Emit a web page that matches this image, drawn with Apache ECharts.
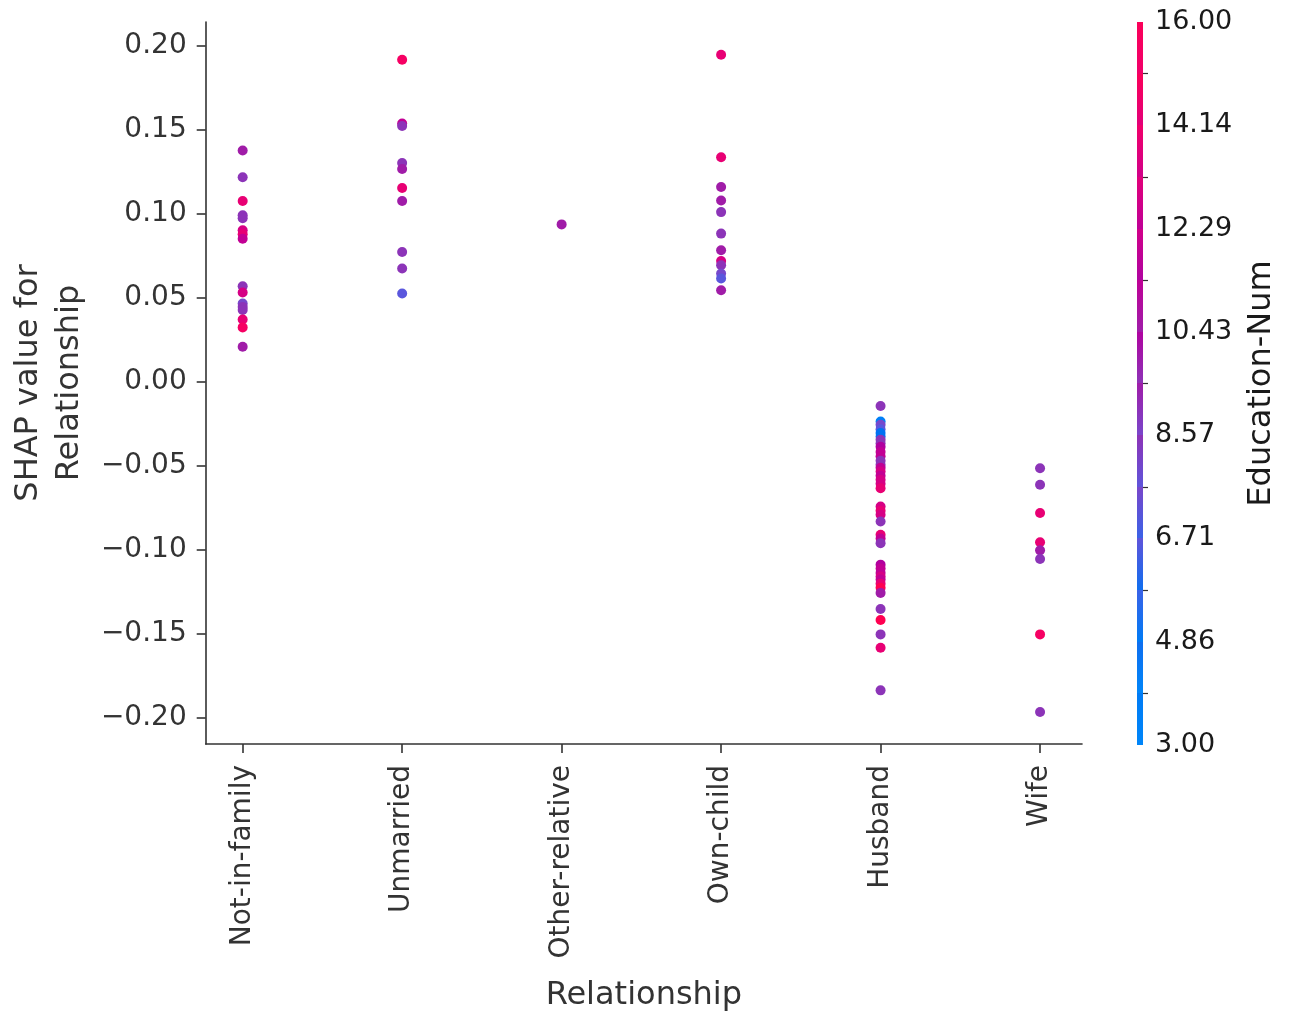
<!DOCTYPE html>
<html>
<head>
<meta charset="utf-8">
<style>
  html, body { margin: 0; padding: 0; background: #ffffff; }
  #chart { width: 1298px; height: 1017px; }
</style>
<script src="https://cdn.jsdelivr.net/npm/echarts@6/dist/echarts.min.js"></script>
</head>
<body>
<div id="chart"></div>
<script>
// ---------------- data ----------------
const categories = ['Not-in-family', 'Unmarried', 'Other-relative', 'Own-child', 'Husband', 'Wife'];

const notInFamilyShap = [0.1378, 0.1219, 0.1077, 0.0992, 0.0974, 0.0903, 0.0879, 0.0853, 0.0570, 0.0533, 0.0467, 0.0447, 0.0428, 0.0372, 0.0325, 0.0210];
const notInFamilyEdu  = [10, 9, 14, 9, 9, 13, 14, 12, 9, 13, 8, 9, 9, 14, 15, 10];

const unmarriedShap = [0.1918, 0.1538, 0.1523, 0.1303, 0.1268, 0.1154, 0.1077, 0.0774, 0.0675, 0.0527];
const unmarriedEdu  = [15, 12, 9, 9, 10, 14, 10, 9, 9, 7];

const otherRelativeShap = [0.0938];
const otherRelativeEdu  = [10];

const ownChildShap = [0.1948, 0.1338, 0.1160, 0.1080, 0.1011, 0.0883, 0.0784, 0.0720, 0.0695, 0.0645, 0.0616, 0.0546];
const ownChildEdu  = [14, 14, 10, 10, 9, 9, 10, 13, 9, 8, 7, 10];

const husbandShap = [-0.0143, -0.0235, -0.0255, -0.0281, -0.0303, -0.0325, -0.0344, -0.0364, -0.0386, -0.0416,
                     -0.0442, -0.0469, -0.0493, -0.0511, -0.0533, -0.0558, -0.0582, -0.0606, -0.0632, -0.0741,
                     -0.0766, -0.0790, -0.0830, -0.0909, -0.0932, -0.0959, -0.1087, -0.1110, -0.1136, -0.1158,
                     -0.1176, -0.1200, -0.1225, -0.1255, -0.1351, -0.1416, -0.1502, -0.1581, -0.1835];
const husbandEdu  = [9, 4, 8, 7, 5, 5, 9, 9, 11, 12,
                     12, 9, 9, 12, 13, 12, 13, 13, 14, 13,
                     14, 13, 9, 14, 12, 9, 11, 12, 12, 13,
                     12, 14, 16, 10, 9, 16, 9, 14, 9];

const wifeShap = [-0.0513, -0.0612, -0.0780, -0.0954, -0.1002, -0.1053, -0.1502, -0.1964];
const wifeEdu  = [9, 9, 14, 14, 10, 9, 15, 9];

const yTickValues = [-0.20, -0.15, -0.10, -0.05, 0.00, 0.05, 0.10, 0.15, 0.20];
const colorbarLabels = ['3.00', '4.86', '6.71', '8.57', '10.43', '12.29', '14.14', '16.00'];
const eduMin = 3, eduMax = 16;

// ---------------- build ----------------
const groups = [
  [notInFamilyShap, notInFamilyEdu],
  [unmarriedShap, unmarriedEdu],
  [otherRelativeShap, otherRelativeEdu],
  [ownChildShap, ownChildEdu],
  [husbandShap, husbandEdu],
  [wifeShap, wifeEdu]
];
const points = [];
groups.forEach(function (g, ci) {
  g[0].forEach(function (v, k) { points.push([ci, v, g[1][k]]); });
});

// SHAP-like red_blue palette (bottom = blue, top = red)
const palette = ['#008bfb', '#0080f7', '#0072f2', '#2f66ea', '#5a57dd', '#7748cc', '#8c34b8',
                 '#a01ca8', '#b1009f', '#c20094', '#d60085', '#e80074', '#f60063', '#ff0051'];

function hexToRgb(h) { return [parseInt(h.substr(1,2),16), parseInt(h.substr(3,2),16), parseInt(h.substr(5,2),16)]; }
function sampleColor(t) {
  const n = palette.length - 1;
  const p = Math.max(0, Math.min(1, t)) * n;
  const i = Math.min(n - 1, Math.floor(p));
  const f = p - i;
  const a = hexToRgb(palette[i]), b = hexToRgb(palette[i + 1]);
  const c = a.map(function (x, k) { return Math.round(x + (b[k] - x) * f); });
  return 'rgb(' + c.join(',') + ')';
}
// stepped gradient for the colorbar (bottom to top)
const nSteps = 14;
const barStops = [];
for (let s = 0; s < nSteps; s++) {
  const col = sampleColor((s + 0.5) / nSteps);
  barStops.push({ offset: 1 - s / nSteps, color: col });
  barStops.push({ offset: 1 - (s + 1) / nSteps, color: col });
}
barStops.sort(function (a, b) { return a.offset - b.offset; });

const axisColor = '#333333';
const FONT = 'DejaVu Sans';
const fmtMinus = function (v) { return (v < -1e-9 ? '\u2212' : '') + Math.abs(v).toFixed(2); };

const chart = echarts.init(document.getElementById('chart'), null, { renderer: 'canvas' });
const option = {
  backgroundColor: '#ffffff',
  animation: false,
  textStyle: { fontFamily: FONT },
  grid: [
    { left: 205, top: 22, width: 877, height: 724, containLabel: false },
    { left: 1137, top: 22, width: 6, height: 723, containLabel: false }
  ],
  xAxis: [
    {
      type: 'value', gridIndex: 0,
      min: -0.2318, max: 5.263,
      name: 'Relationship', nameLocation: 'middle', nameGap: 236,
      nameTextStyle: { fontSize: 32, color: axisColor, fontFamily: FONT },
      axisLine: { show: true, onZero: false, lineStyle: { color: axisColor, width: 1.6 } },
      axisTick: { show: true, length: 9, lineStyle: { color: axisColor, width: 1.6 },
                  customValues: categories.map(function (c, i) { return i; }) },
      axisLabel: { show: true, rotate: 90, margin: 21, fontSize: 28, color: axisColor, fontFamily: FONT,
                   customValues: categories.map(function (c, i) { return i; }),
                   formatter: function (v) { return categories[Math.round(v)] || ''; } },
      splitLine: { show: false }
    },
    {
      type: 'category', gridIndex: 1, data: [''], show: false,
      axisLine: { show: false }, axisTick: { show: false }, axisLabel: { show: false }
    }
  ],
  yAxis: [
    {
      type: 'value', gridIndex: 0,
      min: -0.21543, max: 0.21424,
      name: 'SHAP value for\nRelationship', nameLocation: 'middle', nameGap: 115, nameRotate: 90,
      nameTextStyle: { fontSize: 32, color: axisColor, fontFamily: FONT, lineHeight: 41, align: 'center' },
      axisLine: { show: true, onZero: false, lineStyle: { color: axisColor, width: 1.6 } },
      axisTick: { show: true, length: 9, lineStyle: { color: axisColor, width: 1.6 }, customValues: yTickValues },
      axisLabel: { show: true, margin: 19, fontSize: 28, color: axisColor, fontFamily: FONT,
                   customValues: yTickValues, formatter: fmtMinus },
      splitLine: { show: false }
    },
    {
      type: 'value', gridIndex: 1, position: 'right',
      min: 0, max: colorbarLabels.length - 1,
      name: 'Education-Num', nameLocation: 'middle', nameGap: 103, nameRotate: 90,
      nameTextStyle: { fontSize: 32, color: '#1a1a1a', fontFamily: FONT },
      axisLine: { show: false },
      axisTick: { show: true, length: 5, lineStyle: { color: axisColor, width: 1.2 },
                  customValues: colorbarLabels.slice(1).map(function (l, i) { return i + 0.5; }) },
      axisLabel: { show: true, margin: 12, fontSize: 27, color: '#1a1a1a', fontFamily: FONT,
                   customValues: colorbarLabels.map(function (l, i) { return i; }),
                   formatter: function (v) { return colorbarLabels[Math.round(v)]; } },
      splitLine: { show: false }
    }
  ],
  visualMap: [{
    show: false, type: 'continuous', seriesIndex: 0, dimension: 2,
    min: eduMin, max: eduMax,
    inRange: { color: palette }
  }],
  series: [
    {
      type: 'scatter', xAxisIndex: 0, yAxisIndex: 0,
      data: points, symbol: 'circle', symbolSize: 10,
      itemStyle: { opacity: 1 }
    },
    {
      type: 'bar', xAxisIndex: 1, yAxisIndex: 1,
      data: [colorbarLabels.length - 1], barWidth: '100%',
      itemStyle: { color: new echarts.graphic.LinearGradient(0, 0, 0, 1, barStops) },
      silent: true
    }
  ]
};
chart.setOption(option);
</script>
</body>
</html>
